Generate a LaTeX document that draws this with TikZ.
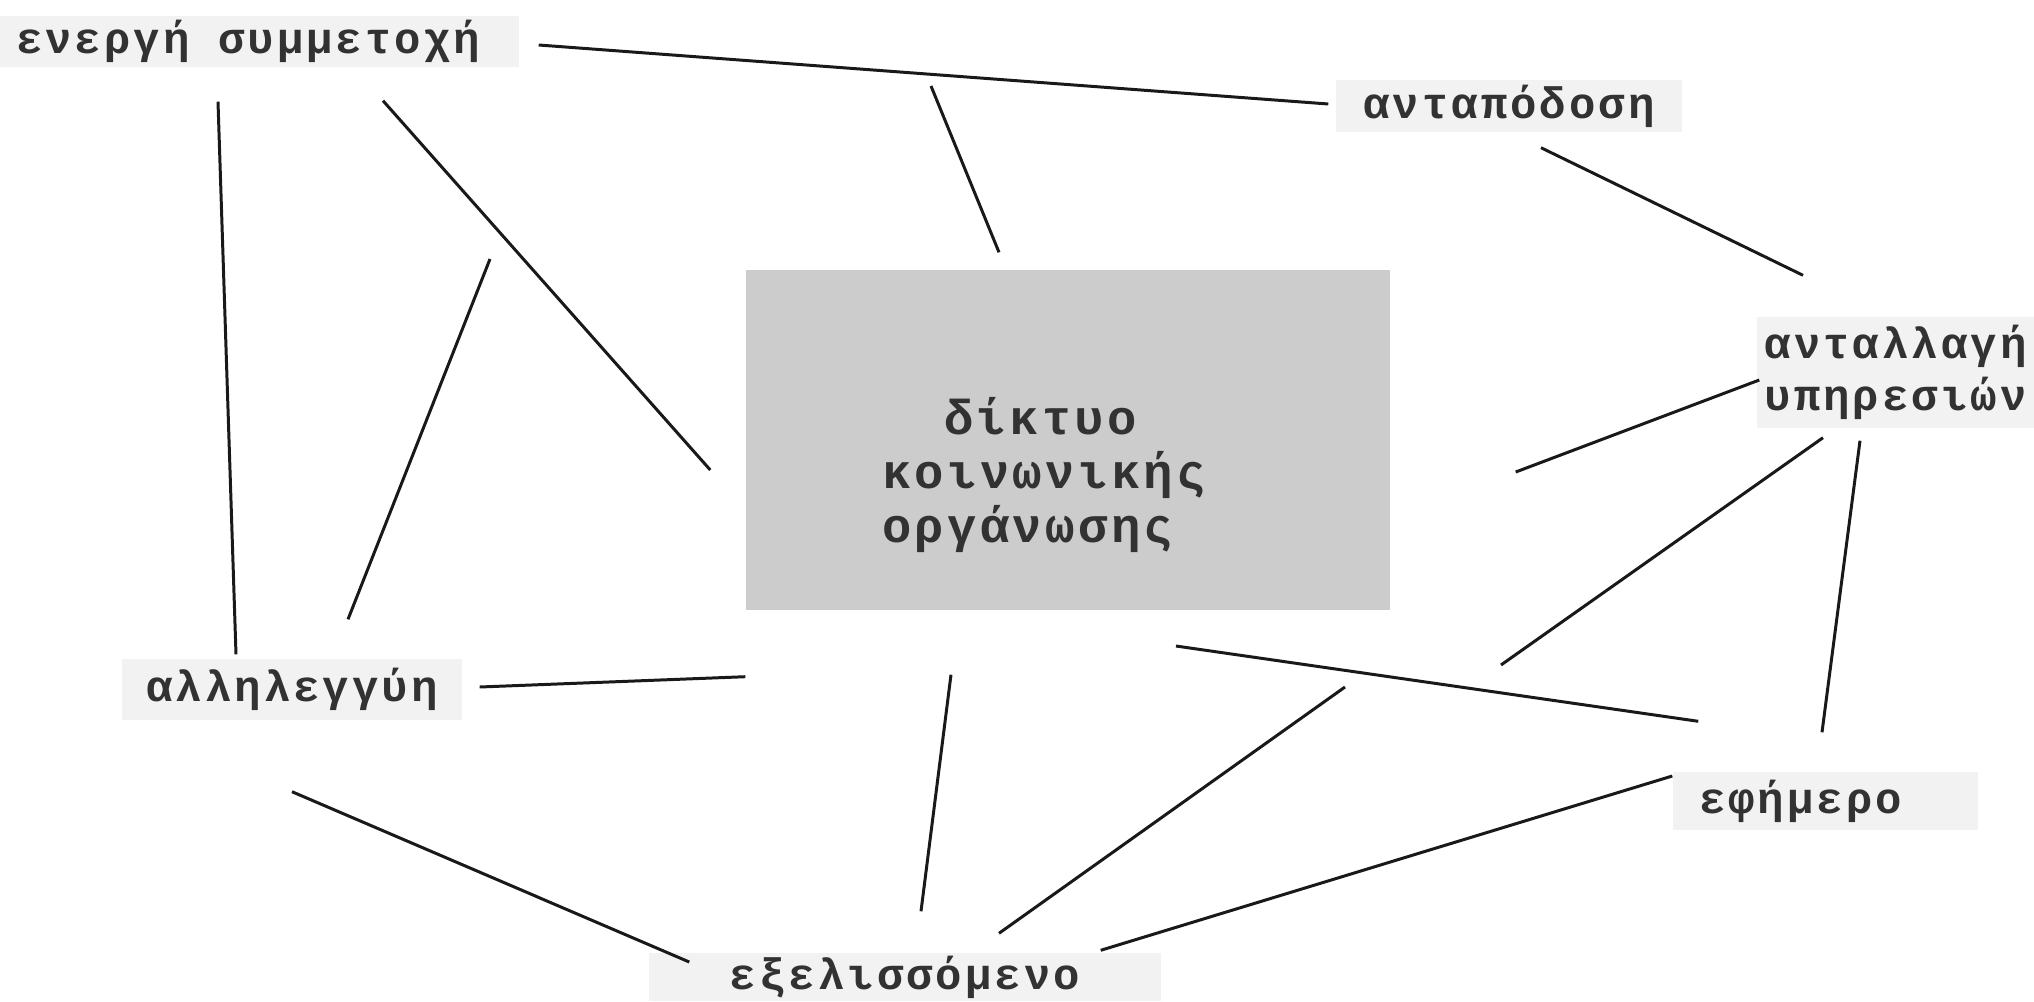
\documentclass[tikz,border=0pt]{standalone}
\usepackage{fontspec}
\newfontfamily\greekmono{Liberation Mono}[LetterSpace=7]
\definecolor{boxgrey}{RGB}{204,204,204}
\definecolor{labelgrey}{RGB}{242,242,242}
\definecolor{textgrey}{RGB}{50,50,50}
\usetikzlibrary{positioning,calc}

\tikzset{
  term/.style={fill=labelgrey, text=textgrey, inner sep=0pt, align=left,
    font=\greekmono\bfseries\fontsize{12.5}{14.8}\selectfont},
  link/.style={line width=0.85pt, draw=black!90},
}

\begin{document}
\begin{tikzpicture}
\useasboundingbox (0,0) rectangle (20.34,-10.01);

% central box
\node[fill=boxgrey, minimum width=6.44cm, minimum height=3.40cm, inner sep=0pt] (net) at (10.68,-4.40) {};
\node[text=textgrey, align=left, font=\greekmono\bfseries\fontsize{13.9}{15.4}\selectfont] (netlbl)
  at ([xshift=-0.24cm,yshift=-0.35cm]net.center) {\phantom{κο}δίκτυο\\κοινωνικής\\οργάνωσης};

% terms
\node[term, inner xsep=0.16cm, text width=4.87cm, minimum height=0.51cm] (ener) at (2.595,-0.415) {ενεργή\hspace{4pt} συμμετοχή};
\node[term, minimum width=3.46cm, minimum height=0.52cm] (antap) at (15.09,-1.06) {ανταπόδοση};
\node[term, minimum width=2.77cm, minimum height=1.11cm] (antal) at (18.955,-3.725) {ανταλλαγή\\υπηρεσιών};
\node[term, minimum width=3.40cm, minimum height=0.61cm] (allil) at (2.92,-6.895) {αλληλεγγύη};
\node[term, inner xsep=0.26cm, text width=2.53cm, minimum height=0.58cm] (efim) at (18.255,-8.01) {εφήμερο};
\node[term, minimum width=5.12cm, minimum height=0.48cm] (exel) at (9.05,-9.77) {εξελισσόμενο};

% free ends
\coordinate (topend) at (9.31,-0.86);
\coordinate (leftend) at (4.90,-2.59);
\coordinate (midend) at (15.01,-6.65);
\coordinate (lowend) at (11.76,-6.46);
\coordinate (botend) at (13.45,-6.87);

% links
\draw[link] ([xshift=0.19cm,yshift=-0.035cm]ener.east) -- ([xshift=-0.07cm,yshift=0.02cm]antap.west);
\draw[link] (topend) -- ([xshift=-0.69cm,yshift=0.17cm]net.north);
\draw[link] ([xshift=-0.415cm,yshift=-0.34cm]ener.south) -- ([xshift=-0.56cm,yshift=0.04cm]allil.north);
\draw[link] ([xshift=1.235cm,yshift=-0.33cm]ener.south) -- ([xshift=-0.35cm,yshift=-0.30cm]net.west);
\draw[link] (leftend) -- ([xshift=0.56cm,yshift=0.39cm]allil.north);
\draw[link] ([xshift=0.32cm,yshift=-0.15cm]antap.south) -- ([xshift=-0.925cm,yshift=0.41cm]antal.north);
\draw[link] ([xshift=1.25cm,yshift=-0.32cm]net.east) -- ([xshift=0.03cm,yshift=-0.075cm]antal.west);
\draw[link] ([xshift=-0.725cm,yshift=-0.09cm]antal.south) -- (midend);
\draw[link] ([xshift=-0.355cm,yshift=-0.12cm]antal.south) -- ([xshift=-0.035cm,yshift=0.39cm]efim.north);
\draw[link] ([xshift=0.17cm,yshift=0.025cm]allil.east) -- ([yshift=-0.66cm]net.south west);
\draw[link] (lowend) -- ([xshift=0.26cm,yshift=0.50cm]efim.north west);
\draw[link] ([xshift=-1.17cm,yshift=-0.64cm]net.south) -- ([xshift=0.16cm,yshift=0.41cm]exel.north);
\draw[link] (botend) -- ([xshift=0.94cm,yshift=0.19cm]exel.north);
\draw[link] ([yshift=-0.71cm]allil.south) -- ([xshift=0.41cm,yshift=0.15cm]exel.west);
\draw[link] ([xshift=-0.61cm,yshift=0.02cm]exel.north east) -- ([yshift=0.25cm]efim.west);
\end{tikzpicture}
\end{document}
